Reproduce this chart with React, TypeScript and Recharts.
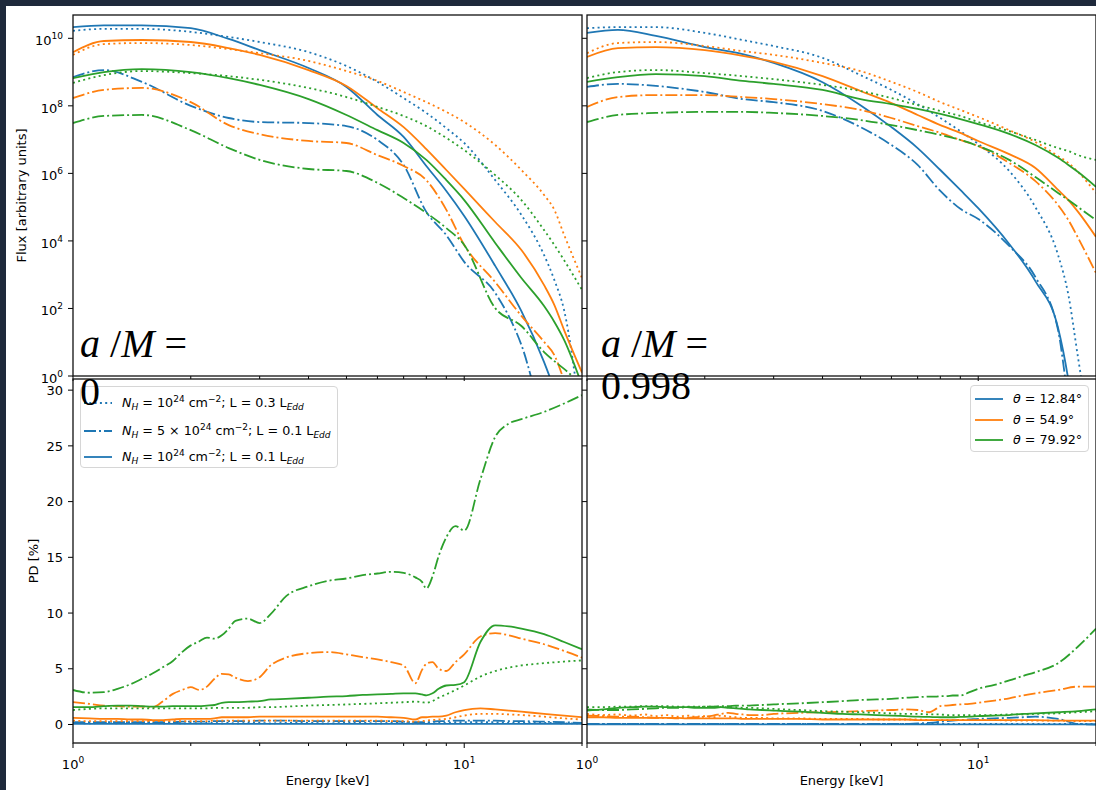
import React from "react";
import { LineChart, Line, XAxis, YAxis, Legend } from "recharts";

// energy grids [keV]
const FLUX_E = [1, 1.2, 1.5, 2, 2.5, 3, 4, 5, 6, 7, 8, 9, 10, 12, 14, 16, 17, 18, 20];
const PD_E = [
  1, 1.1, 1.2, 1.3, 1.4, 1.5, 1.6, 1.7, 1.8, 1.9,
  2, 2.1, 2.2, 2.3, 2.4, 2.5, 2.6, 2.8,
  3, 3.2, 3.5,
  4, 4.5, 5, 5.5, 6, 6.5, 7, 7.5, 7.8,
  8, 8.3, 8.6, 9, 9.5,
  10, 11, 12, 13, 14, 16, 18, 20,
];

const X_TICKS = [1, 2, 3, 4, 5, 6, 7, 8, 9, 10, 20];
const FLUX_TICKS = [1, 1e2, 1e4, 1e6, 1e8, 1e10];
const PD_TICKS = [0, 5, 10, 15, 20, 25, 30];

const THETA = ["12.84", "54.9", "79.92"];
const COLORS = ["#1f77b4", "#ff7f0e", "#2ca02c"];

// log10 of flux, a/M = 0
const flux0_t12_dot = [10.22, 10.28, 10.28, 10.19, 10.04, 9.89, 9.59, 9.18, 8.71, 8.23, 7.79, 7.34, 6.9, 5.8, 4.77, 3.58, 2.84, 1.95, -1.6];
const flux0_t12_dashdot = [8.85, 9.06, 8.71, 8.0, 7.64, 7.52, 7.49, 7.4, 6.99, 6.25, 4.86, 4.17, 3.38, 2.46, 0.92, -1.3, -1.9, -2.49, -3.67];
const flux0_t12_solid = [10.33, 10.38, 10.38, 10.3, 9.98, 9.65, 9.12, 8.56, 7.73, 7.08, 6.22, 5.48, 4.74, 3.26, 1.92, 0.41, -0.41, -1.3, -3.08];
const flux0_t54_dot = [9.51, 9.83, 9.86, 9.8, 9.68, 9.56, 9.33, 9.03, 8.74, 8.41, 8.11, 7.82, 7.52, 6.84, 6.1, 5.36, 4.92, 4.18, 2.9];
const flux0_t54_dashdot = [8.23, 8.47, 8.53, 8.11, 7.43, 7.16, 6.96, 6.9, 6.54, 6.22, 5.8, 4.92, 3.88, 2.78, 1.78, 1.01, 0.62, -0.12, -1.3];
const flux0_t54_solid = [9.59, 9.92, 9.95, 9.89, 9.71, 9.51, 9.06, 8.59, 7.93, 7.37, 6.72, 6.1, 5.54, 4.56, 3.73, 2.69, 2.1, 1.36, 0.1];
const flux0_t79_dot = [8.68, 8.91, 9.03, 8.97, 8.88, 8.77, 8.53, 8.26, 7.97, 7.7, 7.4, 7.05, 6.69, 5.95, 5.21, 4.32, 3.88, 3.43, 2.55];
const flux0_t79_dashdot = [7.49, 7.7, 7.73, 7.28, 6.75, 6.4, 6.13, 6.07, 5.72, 5.27, 4.83, 4.38, 3.88, 2.01, 1.48, 0.71, 0.44, 0.21, -0.27];
const flux0_t79_solid = [8.82, 9.0, 9.09, 9.0, 8.82, 8.62, 8.2, 7.73, 7.28, 6.9, 6.4, 5.8, 5.21, 3.94, 2.9, 2.07, 1.6, 1.07, -0.27];

// log10 of flux, a/M = 0.998
const flux998_t12_dot = [10.3, 10.33, 10.33, 10.16, 9.95, 9.77, 9.42, 8.91, 8.47, 8.05, 7.64, 7.25, 6.87, 6.07, 5.0, 3.58, 2.4, 0.53, -2.78];
const flux998_t12_dashdot = [8.56, 8.65, 8.59, 8.41, 8.2, 8.11, 7.85, 7.37, 6.84, 6.25, 5.48, 4.95, 4.65, 3.85, 2.93, 1.36, -0.71, -2.19, -3.67];
const flux998_t12_solid = [10.16, 10.25, 10.07, 9.74, 9.53, 9.27, 8.7, 8.02, 7.37, 6.75, 6.1, 5.51, 4.97, 3.91, 2.81, 1.42, -0.12, -2.19, -4.26];
const flux998_t54_dot = [9.56, 9.86, 9.89, 9.77, 9.62, 9.51, 9.27, 9.03, 8.71, 8.41, 8.11, 7.88, 7.67, 7.28, 6.93, 6.51, 6.31, 6.04, 5.42];
const flux998_t54_dashdot = [7.97, 8.26, 8.32, 8.32, 8.26, 8.2, 8.05, 7.88, 7.64, 7.4, 7.2, 6.99, 6.81, 6.31, 5.77, 5.06, 4.62, 4.09, 3.05];
const flux998_t54_solid = [9.45, 9.71, 9.74, 9.65, 9.48, 9.3, 8.88, 8.44, 8.08, 7.73, 7.43, 7.2, 6.96, 6.57, 6.16, 5.51, 5.21, 4.86, 4.12];
const flux998_t79_dot = [8.82, 9.0, 9.06, 8.97, 8.88, 8.79, 8.62, 8.44, 8.23, 8.02, 7.85, 7.7, 7.52, 7.25, 6.99, 6.75, 6.66, 6.54, 6.4];
const flux998_t79_dashdot = [7.52, 7.73, 7.79, 7.82, 7.82, 7.79, 7.7, 7.58, 7.43, 7.28, 7.14, 6.99, 6.81, 6.4, 5.89, 5.42, 5.21, 5.0, 4.62];
const flux998_t79_solid = [8.71, 8.85, 8.94, 8.88, 8.74, 8.65, 8.47, 8.2, 8.05, 7.91, 7.76, 7.61, 7.46, 7.17, 6.84, 6.46, 6.25, 6.04, 5.6];

// polarization degree [%], a/M = 0
const pd0_t12_dot = [0.15, 0.1, 0.15, 0.1, 0.15, 0.1, 0.15, 0.1, 0.15, 0.1, 0.15, 0.1, 0.15, 0.15, 0.1, 0.15, 0.1, 0.15, 0.15, 0.1, 0.15, 0.15, 0.1, 0.15, 0.15, 0.1, 0.15, 0.15, 0.1, 0.15, 0.15, 0.1, 0.15, 0.15, 0.2, 0.2, 0.2, 0.2, 0.15, 0.15, 0.15, 0.1, 0.1];
const pd0_t12_dashdot = [0.2, 0.2, 0.2, 0.2, 0.2, 0.2, 0.2, 0.2, 0.2, 0.25, 0.25, 0.25, 0.25, 0.3, 0.3, 0.3, 0.3, 0.3, 0.35, 0.35, 0.35, 0.3, 0.3, 0.3, 0.3, 0.3, 0.3, 0.25, 0.2, 0.2, 0.2, 0.25, 0.3, 0.3, 0.35, 0.35, 0.35, 0.35, 0.3, 0.3, 0.25, 0.2, 0.15];
const pd0_t12_solid = [0.05, 0.05, 0.05, 0.05, 0.05, 0.05, 0.05, 0.05, 0.05, 0.05, 0.05, 0.05, 0.05, 0.05, 0.05, 0.05, 0.05, 0.05, 0.05, 0.05, 0.05, 0.05, 0.05, 0.05, 0.05, 0.05, 0.05, 0.05, 0.05, 0.05, 0.05, 0.05, 0.05, 0.05, 0.05, 0.05, 0.05, 0.05, 0.05, 0.05, 0.05, 0.05, 0.05];
const pd0_t54_dot = [0.35, 0.3, 0.3, 0.3, 0.3, 0.3, 0.3, 0.3, 0.3, 0.3, 0.3, 0.3, 0.3, 0.35, 0.35, 0.35, 0.35, 0.35, 0.35, 0.35, 0.35, 0.35, 0.35, 0.35, 0.35, 0.35, 0.3, 0.3, 0.25, 0.3, 0.35, 0.4, 0.45, 0.5, 0.65, 0.8, 0.95, 0.95, 0.9, 0.85, 0.7, 0.55, 0.45];
const pd0_t54_dashdot = [2.0, 1.85, 1.7, 1.65, 1.6, 1.6, 1.55, 2.1, 2.75, 3.1, 3.35, 3.1, 3.4, 4.1, 4.55, 4.5, 4.2, 3.9, 4.25, 5.3, 6.0, 6.4, 6.5, 6.3, 6.05, 5.85, 5.6, 5.3, 3.7, 4.9, 5.45, 5.6, 5.0, 4.8, 5.6, 6.3, 7.9, 8.2, 8.0, 7.7, 7.2, 6.6, 6.0];
const pd0_t54_solid = [0.6, 0.55, 0.5, 0.5, 0.45, 0.45, 0.4, 0.4, 0.45, 0.5, 0.5, 0.5, 0.5, 0.55, 0.65, 0.65, 0.65, 0.65, 0.7, 0.7, 0.7, 0.7, 0.7, 0.7, 0.7, 0.7, 0.65, 0.6, 0.45, 0.65, 0.65, 0.7, 0.7, 0.8, 1.1, 1.3, 1.45, 1.35, 1.25, 1.15, 0.95, 0.8, 0.65];
const pd0_t79_dot = [1.3, 1.4, 1.45, 1.45, 1.45, 1.45, 1.45, 1.45, 1.45, 1.45, 1.45, 1.45, 1.45, 1.5, 1.5, 1.5, 1.5, 1.5, 1.55, 1.55, 1.6, 1.7, 1.75, 1.8, 1.85, 1.9, 1.95, 2.0, 2.05, 2.0, 1.95, 2.1, 2.4, 2.7, 3.1, 3.5, 4.3, 4.8, 5.1, 5.3, 5.5, 5.65, 5.75];
const pd0_t79_dashdot = [3.1, 2.85, 2.9, 3.2, 3.6, 4.1, 4.6, 5.15, 5.7, 6.5, 7.1, 7.45, 7.8, 7.7, 8.0, 8.6, 9.3, 9.5, 9.1, 9.9, 11.5, 12.4, 12.9, 13.1, 13.4, 13.55, 13.7, 13.6, 13.2, 12.8, 12.2, 13.3, 15.1, 16.8, 17.8, 17.4, 22.0, 25.8, 27.0, 27.4, 28.05, 28.8, 29.55];
const pd0_t79_solid = [1.55, 1.55, 1.65, 1.7, 1.7, 1.65, 1.6, 1.6, 1.65, 1.65, 1.65, 1.65, 1.7, 1.75, 1.95, 2.0, 2.0, 2.05, 2.1, 2.25, 2.3, 2.4, 2.5, 2.55, 2.65, 2.7, 2.75, 2.8, 2.8, 2.7, 2.62, 2.8, 3.2, 3.5, 3.55, 3.8, 7.4, 8.9, 8.8, 8.6, 8.1, 7.4, 6.75];

// polarization degree [%], a/M = 0.998
const pd998_t12_dot = [0.05, 0.05, 0.05, 0.05, 0.05, 0.05, 0.05, 0.05, 0.05, 0.05, 0.05, 0.05, 0.05, 0.05, 0.05, 0.05, 0.05, 0.05, 0.05, 0.05, 0.05, 0.05, 0.05, 0.05, 0.05, 0.05, 0.05, 0.05, 0.05, 0.05, 0.05, 0.05, 0.05, 0.05, 0.05, 0.05, 0.05, 0.05, 0.05, 0.05, 0.05, 0.05, 0.05];
const pd998_t12_dashdot = [0.05, 0.05, 0.05, 0.05, 0.05, 0.05, 0.05, 0.05, 0.05, 0.05, 0.05, 0.05, 0.05, 0.05, 0.05, 0.05, 0.05, 0.05, 0.05, 0.05, 0.05, 0.05, 0.05, 0.05, 0.05, 0.05, 0.05, 0.1, 0.15, 0.2, 0.25, 0.3, 0.35, 0.4, 0.45, 0.5, 0.55, 0.6, 0.65, 0.7, 0.5, 0.05, 0.0];
const pd998_t12_solid = [0.02, 0.02, 0.02, 0.02, 0.02, 0.02, 0.02, 0.02, 0.02, 0.02, 0.02, 0.02, 0.02, 0.02, 0.02, 0.02, 0.02, 0.02, 0.02, 0.02, 0.02, 0.02, 0.02, 0.02, 0.02, 0.02, 0.02, 0.02, 0.02, 0.02, 0.02, 0.02, 0.02, 0.02, 0.02, 0.02, 0.02, 0.02, 0.02, 0.02, 0.02, 0.02, 0.02];
const pd998_t54_dot = [0.95, 0.85, 0.9, 0.8, 0.9, 0.75, 0.85, 0.7, 0.8, 0.7, 0.75, 0.65, 0.8, 0.7, 0.65, 0.6, 0.6, 0.6, 0.55, 0.55, 0.55, 0.5, 0.5, 0.5, 0.45, 0.45, 0.45, 0.45, 0.4, 0.4, 0.4, 0.4, 0.4, 0.4, 0.4, 0.4, 0.4, 0.35, 0.35, 0.35, 0.35, 0.3, 0.3];
const pd998_t54_dashdot = [0.8, 0.75, 0.7, 0.7, 0.65, 0.6, 0.6, 0.55, 0.6, 0.65, 0.7, 0.8, 0.95, 1.05, 0.95, 0.9, 0.85, 0.85, 0.95, 1.0, 1.05, 1.1, 1.15, 1.2, 1.25, 1.3, 1.35, 1.3, 1.1, 1.4, 1.65, 1.7, 1.75, 1.8, 1.85, 1.95, 2.15, 2.35, 2.6, 2.8, 3.1, 3.4, 3.4];
const pd998_t54_solid = [0.65, 0.65, 0.6, 0.6, 0.6, 0.6, 0.6, 0.6, 0.55, 0.55, 0.55, 0.55, 0.55, 0.55, 0.55, 0.5, 0.5, 0.5, 0.5, 0.5, 0.5, 0.45, 0.45, 0.45, 0.45, 0.45, 0.45, 0.4, 0.4, 0.4, 0.4, 0.4, 0.4, 0.4, 0.4, 0.4, 0.4, 0.4, 0.4, 0.4, 0.35, 0.35, 0.35];
const pd998_t79_dot = [1.55, 1.55, 1.6, 1.6, 1.65, 1.65, 1.65, 1.6, 1.6, 1.6, 1.6, 1.6, 1.55, 1.55, 1.55, 1.5, 1.5, 1.45, 1.4, 1.35, 1.3, 1.2, 1.15, 1.1, 1.05, 1.0, 0.95, 0.95, 0.9, 0.9, 0.9, 0.85, 0.85, 0.85, 0.85, 0.85, 0.85, 0.9, 0.9, 0.95, 1.0, 1.1, 1.2];
const pd998_t79_dashdot = [1.35, 1.3, 1.3, 1.35, 1.4, 1.45, 1.5, 1.5, 1.55, 1.55, 1.6, 1.6, 1.65, 1.65, 1.7, 1.7, 1.7, 1.75, 1.8, 1.85, 1.9, 2.0, 2.1, 2.2, 2.25, 2.3, 2.4, 2.45, 2.5, 2.5, 2.55, 2.55, 2.6, 2.6, 2.9, 3.2, 3.55, 3.95, 4.35, 4.7, 5.5, 7.0, 8.6];
const pd998_t79_solid = [1.25, 1.35, 1.5, 1.55, 1.6, 1.6, 1.55, 1.55, 1.55, 1.5, 1.5, 1.5, 1.55, 1.5, 1.45, 1.4, 1.35, 1.3, 1.25, 1.2, 1.15, 1.05, 0.95, 0.9, 0.85, 0.8, 0.75, 0.7, 0.68, 0.66, 0.65, 0.65, 0.65, 0.68, 0.7, 0.75, 0.8, 0.85, 0.95, 1.0, 1.1, 1.2, 1.35];

// matplotlib-like line styles
const DOT = "2 3.3";
const DASHDOT = "12 3 2 3";

type Series = { id: string; color: string; dash?: string; values: number[] };

const mk = (vals: number[][]): Series[] =>
  vals.map((v, i) => ({
    id: `${THETA[Math.floor(i / 3)]}-${i % 3}`,
    color: COLORS[Math.floor(i / 3)],
    dash: [DOT, DASHDOT, undefined][i % 3],
    values: v,
  }));

const flux0 = mk([flux0_t12_dot, flux0_t12_dashdot, flux0_t12_solid, flux0_t54_dot, flux0_t54_dashdot, flux0_t54_solid, flux0_t79_dot, flux0_t79_dashdot, flux0_t79_solid]);
const flux998 = mk([flux998_t12_dot, flux998_t12_dashdot, flux998_t12_solid, flux998_t54_dot, flux998_t54_dashdot, flux998_t54_solid, flux998_t79_dot, flux998_t79_dashdot, flux998_t79_solid]);
const pd0 = mk([pd0_t12_dot, pd0_t12_dashdot, pd0_t12_solid, pd0_t54_dot, pd0_t54_dashdot, pd0_t54_solid, pd0_t79_dot, pd0_t79_dashdot, pd0_t79_solid]);
const pd998 = mk([pd998_t12_dot, pd998_t12_dashdot, pd998_t12_solid, pd998_t54_dot, pd998_t54_dashdot, pd998_t54_solid, pd998_t79_dot, pd998_t79_dashdot, pd998_t79_solid]);

const FONT = "DejaVu Sans";
const TICK_FS = 13;
const SUP_FS = 9;
const FLUX_DOMAIN = [1, Math.pow(10, 10.69)];
const PD_DOMAIN = [-1.66, 31];

const xTick = (labels: boolean) => (p: any) => {
  const v = p.payload.value;
  const major = v === 1 || v === 10;
  return (
    <g>
      <line x1={p.x} x2={p.x} y1={p.y} y2={p.y + (major ? 5 : 3)} stroke="#000" strokeWidth={1} />
      {labels && major ? (
        <text x={p.x} y={p.y + 26} textAnchor="middle" fontSize={TICK_FS} fontFamily={FONT} fill="#000">
          10<tspan dy={-6} fontSize={SUP_FS}>{v === 1 ? "0" : "1"}</tspan>
        </text>
      ) : null}
    </g>
  );
};

const yTick = (flux: boolean, labels: boolean) => (p: any) => {
  const v = p.payload.value;
  return (
    <g>
      <line x1={p.x - 5} x2={p.x} y1={p.y} y2={p.y} stroke="#000" strokeWidth={1} />
      {labels ? (
        flux ? (
          <text x={p.x - 10} y={p.y + 7} textAnchor="end" fontSize={TICK_FS} fontFamily={FONT} fill="#000">
            10<tspan dy={-6} fontSize={SUP_FS}>{Math.round(Math.log10(v))}</tspan>
          </text>
        ) : (
          <text x={p.x - 10} y={p.y + 4.7} textAnchor="end" fontSize={TICK_FS} fontFamily={FONT} fill="#000">
            {v}
          </text>
        )
      ) : null}
    </g>
  );
};

const Sup = ({ children }: any) => (
  <span style={{ fontSize: 9, position: "relative", top: -5 }}>{children}</span>
);
const Sub = ({ children }: any) => (
  <span style={{ fontSize: 9, position: "relative", top: 3 }}>{children}</span>
);

const nhLabel = (prefix: string, lum: string) => (
  <span>
    <i>N</i>
    <Sub>
      <i>H</i>
    </Sub>{" "}
    = {prefix}10<Sup>24</Sup> cm<Sup>−2</Sup>; L = {lum} L
    <Sub>
      <i>Edd</i>
    </Sub>
  </span>
);

const NH_ROWS = [
  { dash: DOT, label: nhLabel("", "0.3") },
  { dash: DASHDOT, label: nhLabel("5 × ", "0.1") },
  { dash: undefined, label: nhLabel("", "0.1") },
];

const LegendBox = ({ w, h, rows, rowY, handleX, textX }: any) => (
  <div
    style={{
      position: "relative",
      width: w,
      height: h,
      boxSizing: "border-box",
      background: "rgba(255,255,255,0.85)",
      border: "1px solid #d6d6d6",
      borderRadius: 4,
      fontFamily: FONT,
      fontSize: 12.7,
      color: "#000",
    }}
  >
    {rows.map((r: any, i: number) => (
      <div key={i} style={{ position: "absolute", left: 0, top: rowY[i] - 10, height: 20, width: w }}>
        <svg width={handleX + 30} height={20} style={{ position: "absolute", left: 0, top: 0 }}>
          <line x1={handleX} x2={handleX + 28} y1={10} y2={10} stroke={r.color} strokeWidth={1.8} strokeDasharray={r.dash} />
        </svg>
        <div style={{ position: "absolute", left: textX, top: 2, whiteSpace: "nowrap", lineHeight: "16px" }}>{r.label}</div>
      </div>
    ))}
  </div>
);

type PanelProps = {
  left: number;
  top: number;
  width: number;
  height: number;
  margin: { top: number; right: number; bottom: number; left: number };
  yWidth: number;
  xHeight: number;
  flux: boolean;
  series: Series[];
  xLabels: boolean;
  yLabels: boolean;
  xTitle?: string;
  yTitle?: string;
  yTitleDx?: number;
  legend?: React.ReactNode;
  legendPos?: { left: number; top: number };
};

function Panel(p: PanelProps) {
  const energies = p.flux ? FLUX_E : PD_E;
  return (
    <div style={{ position: "absolute", left: p.left, top: p.top }}>
      <LineChart width={p.width} height={p.height} margin={p.margin}>
        <XAxis
          type="number"
          dataKey="e"
          scale="log"
          domain={[1, 20]}
          allowDataOverflow
          ticks={X_TICKS}
          interval={0}
          height={p.xHeight}
          axisLine={false}
          tickLine={false}
          tickSize={0}
          tickMargin={0}
          tick={xTick(p.xLabels)}
          label={
            p.xTitle
              ? { value: p.xTitle, position: "insideBottom", offset: 5, fill: "#000", fontSize: 13, fontFamily: FONT }
              : undefined
          }
        />
        <YAxis
          type="number"
          scale={p.flux ? "log" : "linear"}
          domain={p.flux ? FLUX_DOMAIN : PD_DOMAIN}
          allowDataOverflow
          ticks={p.flux ? FLUX_TICKS : PD_TICKS}
          interval={0}
          width={p.yWidth}
          axisLine={false}
          tickLine={false}
          tickSize={0}
          tickMargin={0}
          tick={yTick(p.flux, p.yLabels)}
          label={
            p.yTitle
              ? { value: p.yTitle, position: "center", angle: -90, dx: p.yTitleDx, fill: "#000", fontSize: 13, fontFamily: FONT }
              : undefined
          }
        />
        {p.series.map((s) => (
          <Line
            key={s.id}
            data={energies.map((e, i) => ({ e, v: p.flux ? Math.pow(10, s.values[i]) : s.values[i] }))}
            dataKey="v"
            type="monotone"
            stroke={s.color}
            strokeWidth={1.8}
            strokeDasharray={s.dash}
            dot={false}
            activeDot={false}
            isAnimationActive={false}
          />
        ))}
        {p.legend ? (
          <Legend
            layout="horizontal"
            verticalAlign="middle"
            align="center"
            wrapperStyle={{ left: p.legendPos!.left, top: p.legendPos!.top, width: "auto", height: "auto" }}
            content={() => p.legend}
          />
        ) : null}
      </LineChart>
    </div>
  );
}

const BOXES = [
  { x: 73, y: 15, w: 509, h: 361 },
  { x: 587, y: 15, w: 509, h: 361 },
  { x: 73, y: 379, w: 509, h: 364 },
  { x: 587, y: 379, w: 509, h: 364 },
];

export default function App() {
  const nhLegend = (
    <LegendBox
      w={258}
      h={82}
      rows={NH_ROWS.map((r) => ({ ...r, color: COLORS[0] }))}
      rowY={[16, 44, 70]}
      handleX={3}
      textX={41}
    />
  );
  const thetaLegend = (
    <LegendBox
      w={119}
      h={67}
      rows={THETA.map((t, i) => ({
        color: COLORS[i],
        dash: undefined,
        label: (
          <span>
            <i>θ</i> = {t}°
          </span>
        ),
      }))}
      rowY={[13, 34, 54]}
      handleX={4}
      textX={42}
    />
  );

  return (
    <div style={{ position: "absolute", left: 0, top: 0, width: 1096, height: 790, background: "#1e293b", overflow: "hidden" }}>
      <div style={{ position: "absolute", left: 6, top: 6, width: 1090, height: 784, background: "#fff" }} />
      <Panel
        left={0}
        top={0}
        width={590}
        height={392}
        margin={{ top: 15, right: 8, bottom: 0, left: 0 }}
        yWidth={73}
        xHeight={16}
        flux
        series={flux0}
        xLabels={false}
        yLabels
        yTitle="Flux [arbitrary units]"
        yTitleDx={-15.5}
      />
      <Panel
        left={560}
        top={0}
        width={536}
        height={392}
        margin={{ top: 15, right: 0, bottom: 0, left: 0 }}
        yWidth={27}
        xHeight={16}
        flux
        series={flux998}
        xLabels={false}
        yLabels={false}
      />
      <Panel
        left={0}
        top={370}
        width={590}
        height={420}
        margin={{ top: 9, right: 8, bottom: 0, left: 0 }}
        yWidth={73}
        xHeight={47}
        flux={false}
        series={pd0}
        xLabels
        yLabels
        xTitle="Energy [keV]"
        yTitle="PD [%]"
        yTitleDx={-3}
        legend={nhLegend}
        legendPos={{ left: 80, top: 16 }}
      />
      <Panel
        left={560}
        top={370}
        width={536}
        height={420}
        margin={{ top: 9, right: 0, bottom: 0, left: 0 }}
        yWidth={27}
        xHeight={47}
        flux={false}
        series={pd998}
        xLabels
        yLabels={false}
        xTitle="Energy [keV]"
        legend={thetaLegend}
        legendPos={{ left: 410, top: 15 }}
      />
      <svg width={1096} height={790} style={{ position: "absolute", left: 0, top: 0, pointerEvents: "none" }}>
        {BOXES.map((b, i) => (
          <rect key={i} x={b.x} y={b.y} width={b.w} height={b.h} fill="none" stroke="#111" strokeWidth={1.3} />
        ))}
        <g fontFamily="Liberation Serif" fontSize={40} fill="#000">
          <text x={80} y={357}>
            <tspan fontStyle="italic">a</tspan> /<tspan fontStyle="italic">M</tspan> =
          </text>
          <text x={80} y={405}>0</text>
          <text x={601} y={357}>
            <tspan fontStyle="italic">a</tspan> /<tspan fontStyle="italic">M</tspan> =
          </text>
          <text x={601} y={399}>0.998</text>
        </g>
      </svg>
    </div>
  );
}
